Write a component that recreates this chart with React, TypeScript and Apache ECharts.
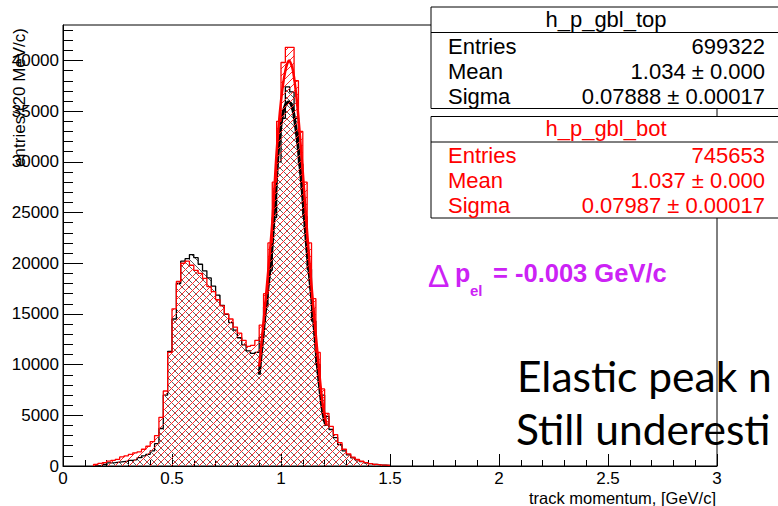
import React, { useEffect, useRef } from 'react';
import * as echarts from 'echarts';

// histogram binning: 20 MeV/c bins, first listed bin starts at 0.14 GeV/c
const BIN_START = 0.14;
const BIN_WIDTH = 0.02;

// h_p_gbl_top (black), bins 0.14 ... 1.48
const topCounts = [
  0, 0, 150, 300, 330, 380, 430, 480, 560, 620,
  820, 1000, 1150, 1500, 2200, 3700, 7000, 11300, 14500, 18000,
  20200, 20450, 20850, 20550, 19900, 19250, 18550, 17750, 16850, 15850,
  14950, 14150, 13400, 12650, 11950, 11350, 11100, 11200, 12700, 15700,
  19300, 24500, 30000, 34300, 37400, 36900, 34300, 29800, 24600, 19400,
  14300, 10000, 7000, 4900, 3600, 2800, 2100, 1500, 1100, 800,
  600, 430, 320, 230, 160, 110, 80, 50,
];

// h_p_gbl_bot (red), bins 0.14 ... 1.48
const botCounts = [
  150, 250, 330, 480, 560, 660, 900, 1000, 1150, 1300,
  1400, 1650, 1950, 2400, 3000, 4800, 7400, 11200, 15500, 18200,
  20000, 20200, 19800, 19300, 19000, 18500, 17700, 17200, 16400, 15800,
  15000, 14500, 13700, 13100, 12400, 11800, 11900, 12400, 13900, 17000,
  22000, 28000, 34000, 39800, 41300, 41300, 38000, 33000, 28000, 22000,
  16500, 11200, 7600, 5200, 3900, 3100, 2300, 1650, 1200, 880,
  640, 470, 340, 240, 170, 120, 90, 60,
];

// fitted curves: [momentum, entries]
const topFit: [number, number][] = [
  [0.9, 9000], [0.93, 15600], [0.947, 18900], [0.959, 21600], [0.974, 26500],
  [0.989, 31400], [1.005, 34400], [1.02, 35600], [1.035, 35900], [1.05, 35500],
  [1.061, 34400], [1.079, 31400], [1.1, 26500], [1.118, 21600], [1.145, 15600],
  [1.168, 9700], [1.191, 5400], [1.206, 3950],
];
const botFit: [number, number][] = [
  [0.9, 9800], [0.93, 16500], [0.96, 24000], [0.98, 31000], [1.0, 36000],
  [1.02, 39000], [1.037, 40000], [1.055, 39000], [1.075, 35500], [1.1, 29000],
  [1.12, 23000], [1.145, 16500], [1.17, 10500], [1.19, 6300], [1.21, 4000],
];

const yMajor = [0, 5000, 10000, 15000, 20000, 25000, 30000, 35000, 40000];
const yMinor = [
  1000, 2000, 3000, 4000, 6000, 7000, 8000, 9000, 11000, 12000, 13000, 14000,
  16000, 17000, 18000, 19000, 21000, 22000, 23000, 24000, 26000, 27000, 28000,
  29000, 31000, 32000, 33000, 34000, 36000, 37000, 38000, 39000, 41000, 42000, 43000,
];
const Y_MAX = 43500;

const statsTop = [
  ['Entries', '699322'],
  ['Mean', '1.034 \u00b1 0.000'],
  ['Sigma', '0.07888 \u00b1 0.00017'],
];
const statsBot = [
  ['Entries', '745653'],
  ['Mean', '1.037 \u00b1 0.000'],
  ['Sigma', '0.07987 \u00b1 0.00017'],
];

function histPoints(counts: number[]) {
  const pts: [number, number][] = [[BIN_START, 0]];
  counts.forEach((c, i) => pts.push([+(BIN_START + i * BIN_WIDTH).toFixed(2), c]));
  pts.push([+(BIN_START + counts.length * BIN_WIDTH).toFixed(2), 0]);
  return pts;
}

function hatch(color: string, back: boolean) {
  const s = 7;
  const c = document.createElement('canvas');
  c.width = s;
  c.height = s;
  const g = c.getContext('2d')!;
  g.fillStyle = color;
  for (let i = 0; i < s; i++) {
    g.fillRect(i, back ? i : s - 1 - i, 1, 1);
  }
  return { image: c, repeat: 'repeat', imageWidth: s, imageHeight: s } as any;
}

const FONT = 'Liberation Sans, Arial, Helvetica, sans-serif';

function statsBox(title: string, rows: string[][], top: number, color: string) {
  const els: any[] = [];
  els.push({
    type: 'rect', z: 100,
    shape: { x: 431, y: top, width: 360, height: 101.5 },
    style: { fill: '#fff', stroke: '#000', lineWidth: 1 },
  });
  els.push({
    type: 'line', z: 101,
    shape: { x1: 431, y1: top + 25.5, x2: 791, y2: top + 25.5 },
    style: { stroke: '#000', lineWidth: 1 },
  });
  els.push({
    type: 'text', z: 101, x: 606, y: top + 12,
    style: { text: title, fill: color, font: `22px ${FONT}`, align: 'center', verticalAlign: 'middle' },
  });
  rows.forEach((r, i) => {
    const y = top + 39 + i * 25;
    els.push({
      type: 'text', z: 101, x: 448, y,
      style: { text: r[0], fill: color, font: `22px ${FONT}`, align: 'left', verticalAlign: 'middle' },
    });
    els.push({
      type: 'text', z: 101, x: 765, y,
      style: { text: r[1], fill: color, font: `22px ${FONT}`, align: 'right', verticalAlign: 'middle' },
    });
  });
  return els;
}

export default function App() {
  const ref = useRef<HTMLDivElement>(null);
  useEffect(() => {
    if (!ref.current) return;
    const chart = echarts.init(ref.current, null, { renderer: 'svg' });
    const magenta = '#cc22f5';
    const option: any = {
      animation: false,
      backgroundColor: '#fff',
      grid: { left: 63, right: 61, top: 25, bottom: 40, show: true, borderColor: '#000', borderWidth: 1, backgroundColor: 'transparent' },
      xAxis: {
        type: 'value', min: 0, max: 3, interval: 0.5,
        axisLine: { show: true, onZero: false, lineStyle: { color: '#000', width: 1 } },
        axisTick: { show: true, inside: true, length: 12, lineStyle: { color: '#000' } },
        minorTick: { show: true, splitNumber: 5, length: 6, lineStyle: { color: '#000' } },
        axisLabel: { color: '#000', fontSize: 17, fontFamily: FONT, margin: 4, formatter: (v: number) => String(+v.toFixed(1)) },
        splitLine: { show: false },
        minorSplitLine: { show: false },
      },
      yAxis: [
        {
          type: 'value', min: 0, max: Y_MAX, position: 'left',
          axisLine: { show: true, lineStyle: { color: '#000', width: 1 } },
          axisTick: { show: true, inside: true, length: 20, lineStyle: { color: '#000' }, customValues: yMajor },
          axisLabel: { color: '#000', fontSize: 17, fontFamily: FONT, margin: 4, customValues: yMajor, formatter: (v: number) => String(v) },
          splitLine: { show: false },
        },
        {
          type: 'value', min: 0, max: Y_MAX, position: 'left', offset: 0,
          axisLine: { show: false },
          axisTick: { show: true, inside: true, length: 10, lineStyle: { color: '#000' }, customValues: yMinor },
          axisLabel: { show: false },
          splitLine: { show: false },
        },
      ],
      series: [
        {
          type: 'line', step: 'end', data: histPoints(topCounts), symbol: 'none', z: 2,
          lineStyle: { color: '#000', width: 1.3 },
          areaStyle: { color: hatch('#5e5e5e', true), opacity: 1 },
        },
        {
          type: 'line', smooth: 0.3, data: topFit, symbol: 'none', z: 3,
          lineStyle: { color: '#000', width: 3 },
        },
        {
          type: 'line', step: 'end', data: histPoints(botCounts), symbol: 'none', z: 4,
          lineStyle: { color: '#ff0000', width: 1.3 },
          areaStyle: { color: hatch('#ff2a2a', false), opacity: 1 },
        },
        {
          type: 'line', smooth: 0.3, data: botFit, symbol: 'none', z: 5,
          lineStyle: { color: '#ff0000', width: 2.5 },
        },
      ],
      graphic: [
        ...statsBox('h_p_gbl_top', statsTop, 7, '#000'),
        ...statsBox('h_p_gbl_bot', statsBot, 116.5, '#ff0000'),
        {
          type: 'text', z: 100, x: 716, y: 498,
          style: { text: 'track momentum, [GeV/c]', fill: '#000', font: `16.5px ${FONT}`, align: 'right', verticalAlign: 'middle' },
        },
        {
          type: 'text', z: 100, x: 19, y: 28, rotation: Math.PI / 2,
          style: { text: 'entries/(20 MeV/c)', fill: '#000', font: `17px ${FONT}`, align: 'right', verticalAlign: 'middle' },
        },
        {
          type: 'text', z: 100, x: 428, y: 276,
          style: { text: '\u0394', fill: magenta, font: `32px ${FONT}`, align: 'left', verticalAlign: 'middle' },
        },
        {
          type: 'text', z: 100, x: 455, y: 273,
          style: { text: 'p', fill: magenta, font: `bold 25px ${FONT}`, align: 'left', verticalAlign: 'middle' },
        },
        {
          type: 'text', z: 100, x: 470, y: 290,
          style: { text: 'el', fill: magenta, font: `bold 15px ${FONT}`, align: 'left', verticalAlign: 'middle' },
        },
        {
          type: 'text', z: 100, x: 493, y: 273,
          style: { text: '= -0.003 GeV/c', fill: magenta, font: `bold 25.5px ${FONT}`, align: 'left', verticalAlign: 'middle' },
        },
        {
          type: 'text', z: 100, x: 517, y: 375,
          style: { text: 'Elastic peak n', fill: '#000', font: '42.5px Lato, Carlito, sans-serif', align: 'left', verticalAlign: 'middle' },
        },
        {
          type: 'text', z: 100, x: 516, y: 428,
          style: { text: 'Still underesti', fill: '#000', font: '42.5px Lato, Carlito, sans-serif', align: 'left', verticalAlign: 'middle' },
        },
      ],
    };
    chart.setOption(option);
    return () => chart.dispose();
  }, []);
  return (
    <div
      ref={ref}
      style={{ position: 'fixed', left: 0, top: 0, width: 778, height: 506, background: '#fff' }}
    />
  );
}
